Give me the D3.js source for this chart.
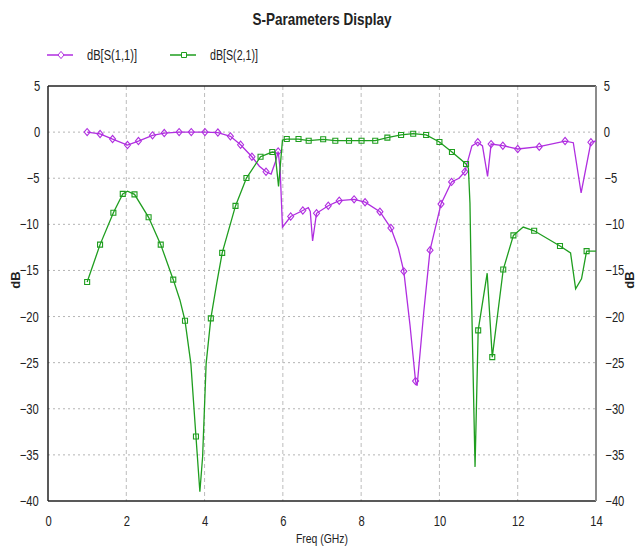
<!DOCTYPE html>
<html>
<head>
<meta charset="utf-8">
<script src="https://cdn.jsdelivr.net/npm/d3@7"></script>
<style>
  body { margin: 0; background: #fff; }
  svg text { font-family: "Liberation Sans Narrow", "Arial Narrow", "Liberation Sans", sans-serif; fill: #222; }
  .narrow { transform-box: fill-box; transform-origin: center; transform: scaleX(0.8); }
</style>
</head>
<body>
<div id="chart"></div>
<script>
// Data: [freq GHz, dB, marker shown (1/0)]
const s11 = [
  [1.00, 0.0, 1], [1.33, -0.2, 1], [1.65, -0.75, 1], [2.03, -1.4, 1],
  [2.31, -0.97, 1], [2.67, -0.35, 1], [2.97, -0.1, 1], [3.35, 0.0, 1],
  [3.66, 0.0, 1], [4.01, 0.0, 1], [4.34, -0.05, 1], [4.66, -0.46, 1],
  [4.92, -1.37, 1], [5.21, -2.67, 1], [5.40, -3.7, 0], [5.57, -4.3, 1],
  [5.70, -4.55, 0], [5.82, -3.1, 0], [5.88, -2.1, 1], [5.93, -4.0, 0],
  [5.99, -10.3, 0], [6.20, -9.15, 1], [6.51, -8.5, 1], [6.65, -8.2, 0],
  [6.70, -8.6, 0], [6.76, -11.8, 0], [6.86, -8.8, 1], [7.16, -7.98, 1],
  [7.44, -7.44, 1], [7.82, -7.29, 1], [8.10, -7.6, 1], [8.48, -8.63, 1],
  [8.76, -10.4, 1], [8.95, -12.6, 0], [9.09, -15.1, 1], [9.25, -21.0, 0],
  [9.39, -27.0, 1], [9.43, -27.5, 0], [9.60, -19.5, 0], [9.76, -12.8, 1],
  [10.04, -7.8, 1], [10.31, -5.4, 1], [10.50, -5.0, 0], [10.65, -4.3, 1],
  [10.72, -3.2, 0], [10.83, -1.5, 0], [10.98, -1.1, 1], [11.10, -1.5, 0],
  [11.23, -4.8, 0], [11.32, -1.3, 1], [11.62, -1.47, 1], [12.00, -1.83, 1],
  [12.55, -1.58, 1], [13.21, -0.97, 1], [13.42, -1.15, 0], [13.62, -6.6, 0],
  [13.87, -1.1, 1], [14.00, -0.95, 0]
];

const s21 = [
  [1.00, -16.26, 1], [1.33, -12.2, 1], [1.67, -8.74, 1], [1.91, -6.7, 1],
  [2.03, -6.4, 0], [2.21, -6.75, 1], [2.57, -9.24, 1], [2.88, -12.2, 1],
  [3.20, -16.0, 1], [3.37, -18.2, 0], [3.50, -20.45, 1], [3.65, -25.1, 0],
  [3.78, -33.0, 1], [3.88, -39.0, 0], [3.95, -35.2, 0], [4.04, -25.1, 0],
  [4.16, -20.2, 1], [4.31, -16.4, 0], [4.45, -13.1, 1], [4.79, -8.0, 1],
  [5.07, -4.98, 1], [5.43, -2.67, 1], [5.73, -2.16, 1], [5.80, -2.2, 0],
  [5.89, -5.9, 0], [5.99, -0.86, 0], [6.10, -0.75, 1], [6.40, -0.75, 1],
  [6.66, -0.93, 1], [7.03, -0.78, 1], [7.34, -0.93, 1], [7.69, -0.93, 1],
  [8.01, -0.93, 1], [8.36, -0.93, 1], [8.67, -0.6, 1], [9.02, -0.31, 1],
  [9.33, -0.17, 1], [9.66, -0.31, 1], [10.00, -1.07, 1], [10.32, -2.16, 1],
  [10.68, -3.46, 1], [10.74, -3.9, 0], [10.78, -7.7, 0], [10.82, -17.8, 0],
  [10.91, -36.3, 0], [10.99, -21.5, 1], [11.22, -15.3, 0], [11.35, -24.4, 1],
  [11.63, -14.9, 1], [11.89, -11.2, 1], [12.14, -10.3, 0], [12.42, -10.7, 1],
  [13.08, -12.35, 1], [13.35, -13.1, 0], [13.48, -17.0, 0], [13.63, -15.9, 0],
  [13.76, -12.9, 1], [14.00, -12.9, 0]
];

const xTicks = [0, 2, 4, 6, 8, 10, 12, 14];
const yTicks = [5, 0, -5, -10, -15, -20, -25, -30, -35, -40];
const seriesNames = ["dB[S(1,1)]", "dB[S(2,1)]"];
const seriesColors = ["#b02ee0", "#1f9e1f"];

// Layout
const width = 637;
const height = 548;
const margin = { top: 86, right: 41, bottom: 47, left: 48 };
const innerW = width - margin.left - margin.right;
const innerH = height - margin.top - margin.bottom;

const svg = d3.select("#chart")
  .append("svg")
  .attr("width", width)
  .attr("height", height);

const g = svg.append("g")
  .attr("transform", `translate(${margin.left},${margin.top})`);

// Scales
const xScale = d3.scaleLinear().domain([0, 14]).range([0, innerW]);
const yScale = d3.scaleLinear().domain([-40, 5]).range([innerH, 0]);

// Grid
g.append("g")
  .selectAll("line")
  .data(yTicks.filter(d => d < 5 && d > -40))
  .enter()
  .append("line")
  .attr("x1", 0)
  .attr("x2", innerW)
  .attr("y1", d => yScale(d))
  .attr("y2", d => yScale(d))
  .attr("stroke", "#b4b4b4")
  .attr("stroke-dasharray", "2,3");

g.append("g")
  .selectAll("line")
  .data(xTicks.filter(d => d > 0 && d < 14))
  .enter()
  .append("line")
  .attr("x1", d => xScale(d))
  .attr("x2", d => xScale(d))
  .attr("y1", 0)
  .attr("y2", innerH)
  .attr("stroke", "#bcbcbc")
  .attr("stroke-dasharray", "4,3");

// Axes
const xAxis = d3.axisBottom(xScale).tickValues(xTicks).tickSize(0).tickPadding(15);
const yAxisL = d3.axisLeft(yScale).tickValues(yTicks).tickSize(0).tickPadding(7);
const yAxisR = d3.axisRight(yScale).tickValues(yTicks).tickSize(0).tickPadding(7);

function styleAxis(sel) {
  sel.select(".domain").remove();
  sel.selectAll("text")
    .attr("class", "narrow")
    .style("font-size", "14px")
    .attr("fill", "#222");
}

g.append("g").attr("transform", `translate(0,${innerH})`).call(xAxis).call(styleAxis);
g.append("g").call(yAxisL).call(styleAxis);
g.append("g").attr("transform", `translate(${innerW},0)`).call(yAxisR).call(styleAxis);

// Frame
g.append("line").attr("x1", 0).attr("x2", innerW).attr("y1", 0).attr("y2", 0)
  .attr("stroke", "#222").attr("stroke-width", 1.5);
g.append("line").attr("x1", 0).attr("x2", innerW).attr("y1", innerH).attr("y2", innerH)
  .attr("stroke", "#222").attr("stroke-width", 1.5);
g.append("line").attr("x1", 0).attr("x2", 0).attr("y1", 0).attr("y2", innerH)
  .attr("stroke", "#222").attr("stroke-width", 1.5);
g.append("line").attr("x1", innerW).attr("x2", innerW).attr("y1", 0).attr("y2", innerH)
  .attr("stroke", "#8c8c8c").attr("stroke-width", 2);

// Lines
const line = d3.line()
  .x(d => xScale(d[0]))
  .y(d => yScale(d[1]));

const diamond = "M0,-3.6L3,0L0,3.6L-3,0Z";
const square = "M-2.5,-2.5H2.5V2.5H-2.5Z";

[s11, s21].forEach(function (data, i) {
  g.append("path")
    .datum(data)
    .attr("fill", "none")
    .attr("stroke", seriesColors[i])
    .attr("stroke-width", 1.3)
    .attr("d", line);

  g.append("g")
    .selectAll("path")
    .data(data.filter(d => d[2]))
    .enter()
    .append("path")
    .attr("transform", d => `translate(${xScale(d[0])},${yScale(d[1])})`)
    .attr("d", i === 0 ? diamond : square)
    .attr("fill", "none")
    .attr("stroke", seriesColors[i])
    .attr("stroke-width", 1.1);
});

// Title
svg.append("text")
  .attr("x", 322)
  .attr("y", 25)
  .attr("text-anchor", "middle")
  .attr("textLength", 139)
  .attr("lengthAdjust", "spacingAndGlyphs")
  .style("font-size", "17px")
  .style("font-weight", "bold")
  .text("S-Parameters Display");

// Legend
const legendX = [47, 170];
const legendTextW = [50, 48];
seriesNames.forEach(function (name, i) {
  const lg = svg.append("g").attr("transform", `translate(${legendX[i]},55)`);
  lg.append("line").attr("x1", 0).attr("x2", 26).attr("y1", 0).attr("y2", 0)
    .attr("stroke", seriesColors[i]).attr("stroke-width", 1.5);
  lg.append("path").attr("transform", "translate(14,0)")
    .attr("d", i === 0 ? diamond : square)
    .attr("fill", "#fff").attr("stroke", seriesColors[i]);
  lg.append("text").attr("x", 40).attr("y", 5)
    .attr("textLength", legendTextW[i])
    .attr("lengthAdjust", "spacingAndGlyphs")
    .style("font-size", "14px").text(name);
});

// Axis titles
svg.append("text")
  .attr("x", margin.left + innerW / 2)
  .attr("y", 543)
  .attr("text-anchor", "middle")
  .attr("textLength", 52)
  .attr("lengthAdjust", "spacingAndGlyphs")
  .style("font-size", "13px")
  .text("Freq (GHz)");

svg.append("text")
  .attr("transform", "translate(20,280) rotate(-90)")
  .attr("text-anchor", "middle")
  .style("font-size", "13px")
  .style("font-weight", "bold")
  .text("dB");

svg.append("text")
  .attr("transform", "translate(634,280) rotate(-90)")
  .attr("text-anchor", "middle")
  .style("font-size", "13px")
  .style("font-weight", "bold")
  .text("dB");
</script>
</body>
</html>
